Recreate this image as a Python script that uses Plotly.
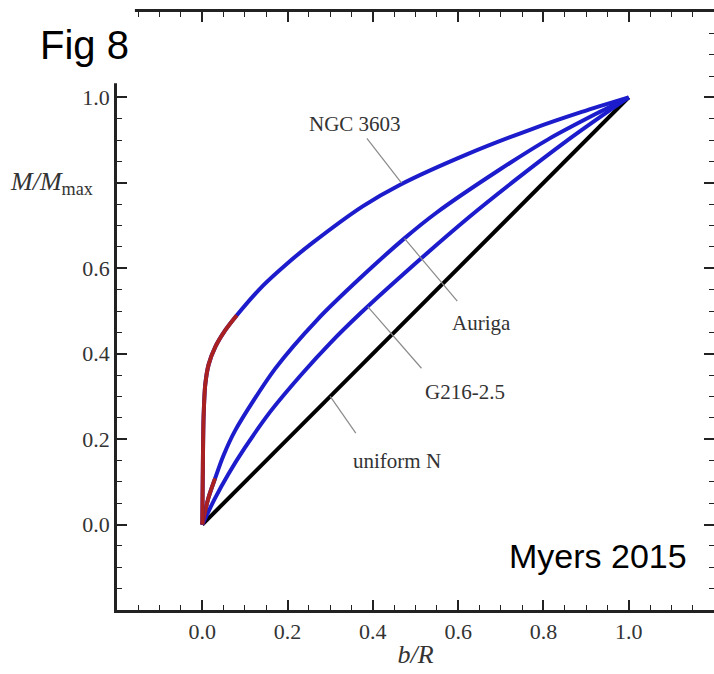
import plotly.graph_objects as go

# ---------------- data ----------------
uniform_b = [0.0, 1.0]
uniform_m = [0.0, 1.0]

g216_b = [0.0, 0.030, 0.061, 0.100, 0.160, 0.233, 0.300, 0.369, 0.470, 0.626, 0.736, 0.853, 0.946, 1.0]
g216_m = [0.0, 0.062, 0.118, 0.180, 0.265, 0.352, 0.425, 0.493, 0.585, 0.720, 0.808, 0.897, 0.963, 1.0]

auriga_b = [0.0, 0.014, 0.030, 0.049, 0.077, 0.171, 0.270, 0.369, 0.474, 0.549, 0.696, 0.813, 0.930, 1.0]
auriga_m = [0.0, 0.061, 0.108, 0.160, 0.220, 0.365, 0.480, 0.576, 0.670, 0.730, 0.830, 0.903, 0.965, 1.0]
auriga_red_n = 3          # first points drawn in red

ngc_b = [0.0, 0.001, 0.003, 0.007, 0.015, 0.030, 0.054, 0.081,
         0.143, 0.200, 0.259, 0.376, 0.463, 0.619, 0.773, 0.890, 1.0]
ngc_m = [0.0, 0.100, 0.250, 0.328, 0.375, 0.415, 0.455, 0.490,
         0.560, 0.612, 0.660, 0.745, 0.795, 0.866, 0.926, 0.966, 1.0]
ngc_red_n = 8             # first points drawn in red

tick_vals = [-0.2, 0.0, 0.2, 0.4, 0.6, 0.8, 1.0, 1.2]
x_tick_text = [" ", "0.0", "0.2", "0.4", "0.6", "0.8", "1.0", " "]
y_tick_text = [" ", "0.0", "0.2", "0.4", "0.6", " ", "1.0", " "]

# label text, label centre, leader line (start, end)
labels = ["NGC 3603", "Auriga", "G216-2.5", "uniform N"]
label_pos = [(0.357, 0.937), (0.654, 0.472), (0.615, 0.310), (0.457, 0.148)]
leader_lines = [((0.386, 0.904), (0.467, 0.800)),
                ((0.474, 0.670), (0.598, 0.523)),
                ((0.388, 0.510), (0.514, 0.366)),
                ((0.300, 0.300), (0.360, 0.214))]

BLUE = "#1c1ccc"
RED = "#a82020"
SERIF = "Liberation Serif, Times New Roman, serif"
SANS = "Liberation Sans, Arial, sans-serif"

fig = go.Figure()
LW = 4
spl = dict(shape="spline", smoothing=0.8)
fig.add_trace(go.Scatter(x=uniform_b, y=uniform_m, mode="lines",
                         line=dict(color="black", width=LW)))
fig.add_trace(go.Scatter(x=g216_b, y=g216_m, mode="lines",
                         line=dict(color=BLUE, width=LW, **spl)))
fig.add_trace(go.Scatter(x=auriga_b, y=auriga_m, mode="lines",
                         line=dict(color=BLUE, width=LW, **spl)))
fig.add_trace(go.Scatter(x=auriga_b[:auriga_red_n], y=auriga_m[:auriga_red_n], mode="lines",
                         line=dict(color=RED, width=LW, **spl)))
fig.add_trace(go.Scatter(x=ngc_b, y=ngc_m, mode="lines",
                         line=dict(color=BLUE, width=LW, **spl)))
fig.add_trace(go.Scatter(x=ngc_b[:ngc_red_n], y=ngc_m[:ngc_red_n], mode="lines",
                         line=dict(color=RED, width=LW, **spl)))

for (p0, p1) in leader_lines:
    fig.add_shape(type="line", x0=p0[0], y0=p0[1], x1=p1[0], y1=p1[1],
                  xref="x", yref="y", line=dict(color="#8a8a8a", width=1.2))

for txt, (lx, ly) in zip(labels, label_pos):
    fig.add_annotation(x=lx, y=ly, xref="x", yref="y", text=txt, showarrow=False,
                       font=dict(family=SERIF, size=21, color="#333333"))

axis_common = dict(
    range=[-0.2, 1.2], tickvals=tick_vals, ticks="inside", ticklen=10, tickwidth=1.6,
    tickcolor="#222", showline=True, linewidth=2.5, linecolor="#222", mirror="ticks",
    showgrid=False, zeroline=False, automargin=False,
    tickfont=dict(family=SERIF, size=22, color="#333333"),
    minor=dict(dtick=0.05, ticks="inside", ticklen=5, tickwidth=1.4, tickcolor="#222",
               showgrid=False),
)
fig.update_xaxes(**axis_common, ticktext=x_tick_text,
                 title=dict(text="<i>b/R</i>", font=dict(family=SERIF, size=26, color="#333"),
                            standoff=2))
fig.update_yaxes(**axis_common, ticktext=y_tick_text)

# y-axis title at the 0.8 position
fig.add_annotation(x=-0.182, y=0.80, xref="paper", yref="y", xanchor="left", yanchor="middle",
                   text="<i>M/M</i><sub>max</sub>", showarrow=False,
                   font=dict(family=SERIF, size=26, color="#333333"))

# white box in the top-left corner hiding the frame, with "Fig 8"
fig.add_shape(type="rect", xref="paper", yref="paper", x0=-0.25, x1=0.030, y0=0.881, y1=1.05,
              fillcolor="white", line=dict(width=0), layer="above")
fig.add_annotation(x=-0.132, y=0.945, xref="paper", yref="paper", xanchor="left", yanchor="middle",
                   text="Fig 8", showarrow=False,
                   font=dict(family=SANS, size=40, color="black"))
fig.add_annotation(x=0.958, y=0.09, xref="paper", yref="paper", xanchor="right", yanchor="middle",
                   text="Myers 2015", showarrow=False,
                   font=dict(family=SANS, size=34, color="black"))

fig.update_layout(width=714, height=674, margin=dict(l=117, r=0, t=12, b=64),
                  paper_bgcolor="white", plot_bgcolor="white", showlegend=False)

fig.write_html("out.html", config={"displayModeBar": False},
               post_script="document.body.style.margin='0';document.body.style.overflow='hidden';")
